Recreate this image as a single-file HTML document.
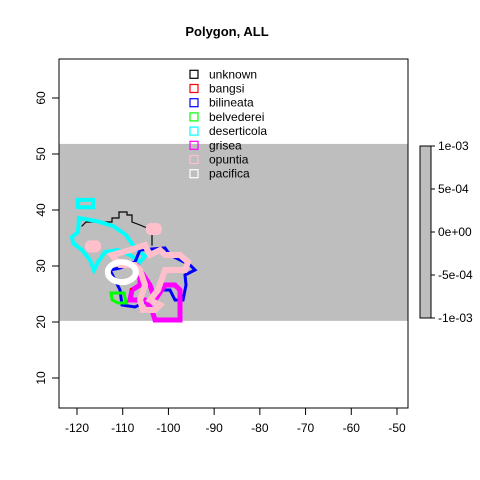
<!DOCTYPE html>
<html><head><meta charset="utf-8"><style>
body{margin:0;background:#fff}
svg{display:block;font-family:"Liberation Sans",sans-serif}
</style></head><body>
<svg id="c" width="480" height="480" viewBox="0 0 480 480">
<text x="227" y="36" text-anchor="middle" font-weight="bold" font-size="13">Polygon, ALL</text>
<g id="plot"></g>
</svg>
<script>
const xTicks=[-120,-110,-100,-90,-80,-70,-60,-50];
const yTicks=[10,20,30,40,50,60];
const bandLat=[20.2,51.8];
const cbLabels=["1e-03","5e-04","0e+00","-5e-04","-1e-03"];
const legendNames=["unknown","bangsi","bilineata","belvederei","deserticola","grisea","opuntia","pacifica"];
const legendColors=["#000","#f00","#00f","#0f0","#0ff","#f0f","#ffc0cb","#fff"];
const desertLon=[-119.56,-115.84,-112.12,-109.28,-107.31,-105.12,-106.22,-108.41,-111.03,-113.87,-115.41,-116.28,-117.16,-118.91,-120.88,-121.09,-119.78];
const desertLat=[38.57,38.04,37.14,35.54,33.21,31.79,30.71,31.96,32.86,32.5,30.71,29.29,31.07,32.86,34.11,35.18,36.07];
const desert2Lon=[-119.8,-116.5,-116.5,-119.8];
const desert2Lat=[41.8,41.8,40.5,40.5];
const unkLon=[-118.91,-118.03,-112.34,-112.34,-110.81,-110.81,-109.06,-109.06,-107.97,-107.97,-106.22,-103.59,-103.59];
const unkLat=[37.14,37.86,37.86,38.57,38.57,39.64,39.64,39.11,39.11,37.86,37.32,36.43,33.75];
const bilLon=[-106.22,-100.75,-99.66,-95.28,-94.19,-96.37,-96.15,-96.81,-98.56,-99.66,-101.84,-104.03,-107.31,-110.16,-110.59,-112.78,-110.59,-107.31];
const bilLat=[32.86,33.21,31.96,30.18,29.29,28.39,26.61,23.93,23.93,25.71,25.71,23.93,22.68,23.04,25.71,29.29,29.64,30.71];
const belLon=[-112.56,-109.72,-109.28,-111.03,-112.3];
const belLat=[25.18,25.18,23.39,23.39,23.93];
const griLon=[-106.22,-104.03,-102.94,-100.75,-98.56,-97.47,-97.47,-102.94,-103.59,-105.12,-108.41,-107.97,-106.22];
const griLat=[29.29,26.61,23.93,26.61,26.61,25.71,20.36,20.36,22.14,23.93,23.93,25.71,26.61];
const opuLon=[-112.34,-108.41,-105.12,-104.03,-101.84,-100.75,-97.47,-95.72,-96.37,-100.75,-102.28,-104.03,-101.84,-102.94,-105.56,-106.22,-105.12,-106.22,-107.31,-110.59];
const opuLat=[31.96,32.86,33.75,31.96,32.86,31.96,31.96,30.71,29.29,29.29,25.71,23.93,23.04,22.14,22.14,23.93,26.61,29.29,30.18,30.18];
const blobLon=[-103.2,-116.5];
const blobLat=[36.6,33.5];
const pacLon=[-110.2], pacLat=[28.9];
const redLon=[-108.2], redLat=[25.9];

const X=v=>77+(v+120)*320/70;
const Y=v=>378-(v-10)*280/50;
const NS="http://www.w3.org/2000/svg";
const g=document.getElementById('plot');
function mk(t,a,p){const e=document.createElementNS(NS,t);for(const k in a)e.setAttribute(k,a[k]);(p||g).appendChild(e);return e;}
let b=mk('rect',{x:59,y:Y(bandLat[1]),width:349,height:Y(bandLat[0])-Y(bandLat[1]),fill:'#bebebe'});


function poly(lon,lat,col,w,name,closed){
  const pts=lon.map((v,i)=>X(v).toFixed(1)+','+Y(lat[i]).toFixed(1)).join(' ');
  const e=mk(closed?'polygon':'polyline',{points:pts,fill:'none',stroke:col,'stroke-width':w,'stroke-linejoin':'miter','stroke-linecap':'square'});
  
  
}
poly(unkLon,unkLat,'#000',1.2,'unknown-polygon',false);
poly(desertLon,desertLat,'#0ff',4,'deserticola-polygon',true);
poly(desert2Lon,desert2Lat,'#0ff',4,'deserticola-polygon-2',true);
poly(bilLon,bilLat,'#00f',3,'bilineata-polygon',true);
poly(belLon,belLat,'#0f0',3,'belvederei-polygon',true);
poly(griLon,griLat,'#f0f',5,'grisea-polygon',true);
poly(opuLon,opuLat,'#ffc0cb',6,'opuntia-polygon',true);
blobLon.forEach((v,i)=>{const e=mk('rect',{x:X(v)-8,y:Y(blobLat[i])-6,width:16,height:12,rx:5,fill:'#ffc0cb'});

});
pacLon.forEach((v,i)=>{const e=mk('ellipse',{cx:X(v),cy:Y(pacLat[i]),rx:14,ry:10,fill:'none',stroke:'#fff','stroke-width':6});

});
redLon.forEach((v,i)=>{const e=mk('rect',{x:X(v)-1,y:Y(redLat[i])-1,width:2,height:2,fill:'#f00'});

});
let f=mk('rect',{x:59,y:59,width:349,height:349,fill:'none',stroke:'#000'});


mk('line',{x1:X(-120),x2:X(-50),y1:408,y2:408,stroke:'#000'});
xTicks.forEach(t=>{mk('line',{x1:X(t),x2:X(t),y1:408,y2:415,stroke:'#000'});
const e=mk('text',{x:X(t),y:432,'text-anchor':'middle','font-size':12});e.textContent=t;

});
yTicks.forEach(t=>{mk('line',{x1:52,x2:59,y1:Y(t),y2:Y(t),stroke:'#000'});
const e=mk('text',{x:0,y:0,'text-anchor':'middle','font-size':12,transform:`translate(45,${Y(t)}) rotate(-90)`});e.textContent=t;

});
legendNames.forEach((n,i)=>{const y=74.3+i*14.2;
const r=mk('rect',{x:190,y:y-4,width:8,height:8,fill:'none',stroke:legendColors[i],'stroke-width':1.2});


const t=mk('text',{x:209,y:y+4,'font-size':12});t.textContent=n;

});
let cb=mk('rect',{x:420,y:146,width:11,height:172,fill:'#bebebe',stroke:'#000'});


cbLabels.forEach((l,i)=>{const y=146+i*43;
mk('line',{x1:431,x2:435,y1:y,y2:y,stroke:'#000'});
const t=mk('text',{x:438,y:y+4,'font-size':12});t.textContent=l;

});
</script>
</body></html>
